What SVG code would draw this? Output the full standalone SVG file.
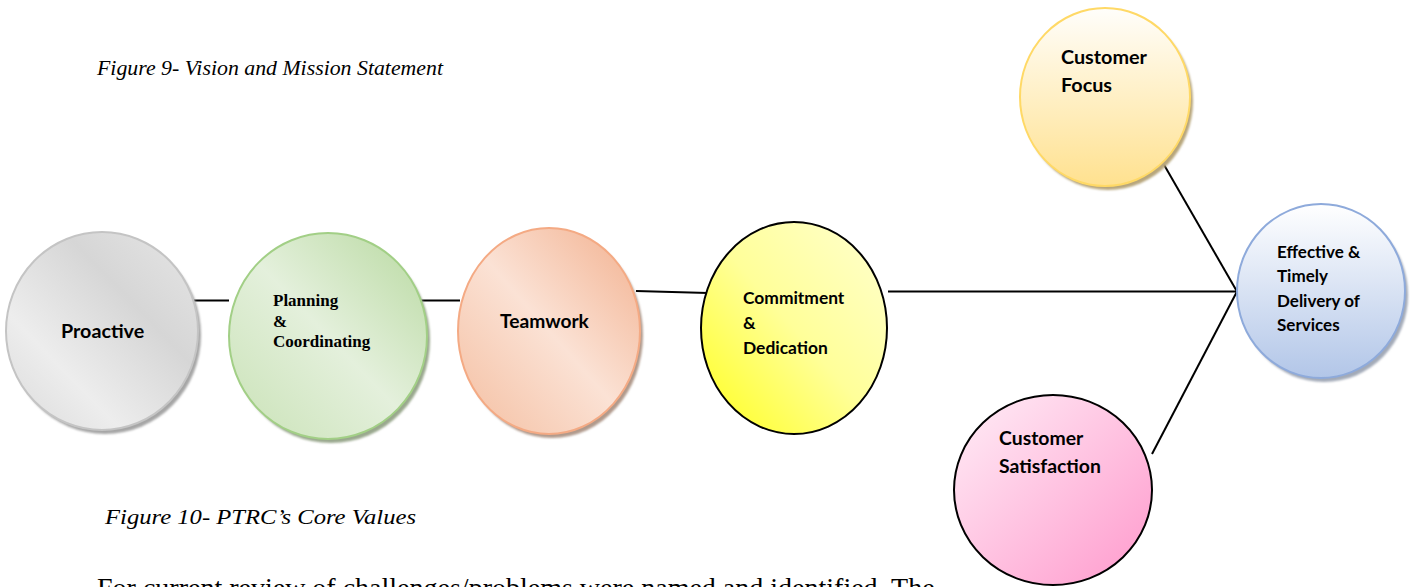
<svg xmlns="http://www.w3.org/2000/svg" width="1413" height="587" viewBox="0 0 1413 587">
  <defs>
    <linearGradient id="gGray" x1="1" y1="0" x2="0" y2="1">
      <stop offset="0" stop-color="#e6e6e6"/>
      <stop offset="0.35" stop-color="#d6d6d6"/>
      <stop offset="0.7" stop-color="#ededed"/>
      <stop offset="1" stop-color="#dadada"/>
    </linearGradient>
    <linearGradient id="gGreen" x1="1" y1="0" x2="0" y2="1">
      <stop offset="0" stop-color="#b8d9a0"/>
      <stop offset="0.5" stop-color="#e4f0dc"/>
      <stop offset="1" stop-color="#c9e2b6"/>
    </linearGradient>
    <linearGradient id="gOrange" x1="1" y1="0" x2="0" y2="1">
      <stop offset="0" stop-color="#f2b08e"/>
      <stop offset="0.5" stop-color="#fbe2d5"/>
      <stop offset="1" stop-color="#f4bea0"/>
    </linearGradient>
    <linearGradient id="gYellow" x1="1" y1="0" x2="0" y2="1">
      <stop offset="0" stop-color="#ffffd0"/>
      <stop offset="0.5" stop-color="#ffff99"/>
      <stop offset="1" stop-color="#ffff1a"/>
    </linearGradient>
    <linearGradient id="gGold" x1="0" y1="0" x2="0" y2="1">
      <stop offset="0" stop-color="#fffefb"/>
      <stop offset="1" stop-color="#ffe18f"/>
    </linearGradient>
    <linearGradient id="gBlue" x1="0" y1="0" x2="0" y2="1">
      <stop offset="0" stop-color="#ffffff"/>
      <stop offset="1" stop-color="#b2c6e8"/>
    </linearGradient>
    <linearGradient id="gPink" x1="0" y1="0" x2="1" y2="1">
      <stop offset="0" stop-color="#ffeef7"/>
      <stop offset="1" stop-color="#ff99cc"/>
    </linearGradient>
    <filter id="soft" x="-10%" y="-10%" width="120%" height="120%">
      <feGaussianBlur stdDeviation="1.2"/>
    </filter>
  </defs>
  <style>
    .lbl { font-family: Lato, "Liberation Sans", sans-serif; font-weight: 700; fill: #000; }
    .serifb { font-family: "Liberation Serif", serif; font-weight: 700; font-size: 17px; fill: #000; }
    .cap { font-family: "Liberation Serif", serif; font-style: italic; fill: #000; }
    .body { font-family: "Liberation Serif", serif; font-size: 28px; fill: #000; }
    .shadow { filter: url(#soft); }
    .edge { stroke: #000; stroke-width: 2; fill: none; }
  </style>

  <rect width="1413" height="587" fill="#ffffff"/>

  <text class="cap" x="97" y="75" font-size="20" textLength="346" lengthAdjust="spacingAndGlyphs">Figure 9- Vision and Mission Statement</text>

  <!-- connectors -->
  <g id="connectors">
    <line class="edge" x1="180" y1="300.5" x2="229" y2="300.5"/>
    <line class="edge" x1="413" y1="300.5" x2="460" y2="300.5"/>
    <line class="edge" x1="636" y1="291" x2="708" y2="293"/>
    <line class="edge" x1="888" y1="291.5" x2="1237" y2="291.5"/>
    <line class="edge" x1="1163" y1="163" x2="1237" y2="291.5"/>
    <line class="edge" x1="1152" y1="454" x2="1237" y2="291.5"/>
  </g>

  <g id="proactive">
    <ellipse class="shadow" cx="105" cy="335" rx="96" ry="99" fill="#a6a6a6"/>
    <ellipse cx="102" cy="331" rx="96" ry="99" fill="url(#gGray)" stroke="#c4c4c4" stroke-width="2"/>
    <text class="lbl" x="61" y="338" font-size="19.7">Proactive</text>
  </g>

  <g id="planning">
    <ellipse class="shadow" cx="331" cy="340" rx="99" ry="103" fill="#9aa88e"/>
    <ellipse cx="328" cy="336" rx="99" ry="103" fill="url(#gGreen)" stroke="#a2cf86" stroke-width="2"/>
    <text class="serifb" x="273" y="306">Planning</text>
    <text class="serifb" x="273" y="327">&amp;</text>
    <text class="serifb" x="273" y="347">Coordinating</text>
  </g>

  <g id="teamwork">
    <ellipse class="shadow" cx="552" cy="335" rx="91" ry="103" fill="#b09a8c"/>
    <ellipse cx="549" cy="331" rx="91" ry="103" fill="url(#gOrange)" stroke="#f4aa84" stroke-width="2"/>
    <text class="lbl" x="500" y="328" font-size="19.2">Teamwork</text>
  </g>

  <g id="commitment">
    <ellipse cx="794" cy="328" rx="93" ry="106" fill="url(#gYellow)" stroke="#000" stroke-width="2"/>
    <text class="lbl" x="743" y="304" font-size="17.4">Commitment</text>
    <text class="lbl" x="743" y="329" font-size="17.4">&amp;</text>
    <text class="lbl" x="743" y="354" font-size="17.4">Dedication</text>
  </g>

  <g id="customer-focus">
    <ellipse class="shadow" cx="1108" cy="101" rx="85" ry="89" fill="#b7a67c"/>
    <ellipse cx="1105" cy="97" rx="85" ry="89" fill="url(#gGold)" stroke="#ffd966" stroke-width="2"/>
    <text class="lbl" x="1061" y="64" font-size="19.8">Customer</text>
    <text class="lbl" x="1061" y="92" font-size="19.8">Focus</text>
  </g>

  <g id="effective-delivery">
    <ellipse class="shadow" cx="1324" cy="295" rx="84" ry="87" fill="#a3aab8"/>
    <ellipse cx="1321" cy="291" rx="84" ry="87" fill="url(#gBlue)" stroke="#8eaadb" stroke-width="2"/>
    <text class="lbl" x="1277" y="258" font-size="17">Effective &amp;</text>
    <text class="lbl" x="1277" y="282" font-size="17">Timely</text>
    <text class="lbl" x="1277" y="307" font-size="17">Delivery of</text>
    <text class="lbl" x="1277" y="331" font-size="17">Services</text>
  </g>

  <g id="customer-satisfaction">
    <ellipse cx="1053" cy="490" rx="99" ry="95" fill="url(#gPink)" stroke="#000" stroke-width="2"/>
    <text class="lbl" x="999" y="445" font-size="19.4">Customer</text>
    <text class="lbl" x="999" y="473" font-size="19.4">Satisfaction</text>
  </g>

  <text class="cap" x="105" y="524" font-size="22" textLength="311" lengthAdjust="spacingAndGlyphs">Figure 10- PTRC’s Core Values</text>

  <text class="body" x="97" y="597">For current review of challenges/problems were named and identified. The</text>
</svg>
